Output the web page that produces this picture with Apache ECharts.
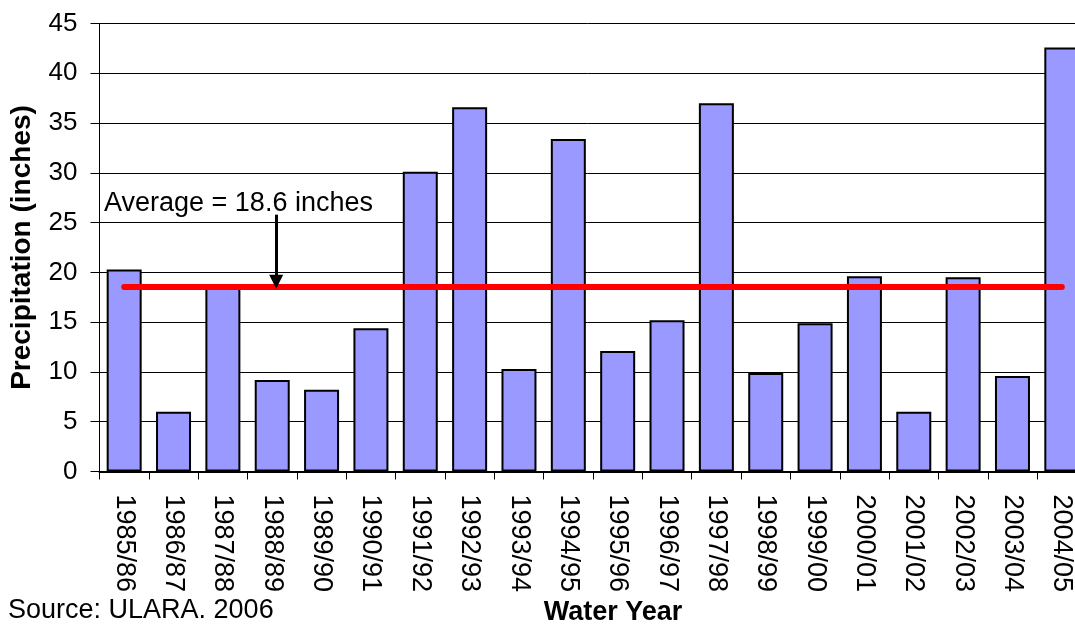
<!DOCTYPE html>
<html>
<head>
<meta charset="utf-8">
<script src="https://cdn.jsdelivr.net/npm/echarts@6/dist/echarts.min.js"></script>
<style>
html,body{margin:0;padding:0;background:#fff;}
#chart{width:1075px;height:626px;}
</style>
</head>
<body>
<div id="chart"></div>
<script>
const categories = ['1985/86','1986/87','1987/88','1988/89','1989/90','1990/91','1991/92','1992/93','1993/94','1994/95','1995/96','1996/97','1997/98','1998/99','1999/00','2000/01','2001/02','2002/03','2003/04','2004/05'];
const precipitation = [20.3, 6.0, 18.8, 9.2, 8.2, 14.4, 30.1, 36.6, 10.3, 33.4, 12.1, 15.2, 37.0, 9.9, 14.9, 19.6, 6.0, 19.5, 9.6, 42.6];
const averageValue = 18.6;
const averageLabel = 'Average = 18.6 inches';
const yTitle = 'Precipitation (inches)';
const xTitle = 'Water Year';
const sourceText = 'Source: ULARA. 2006';
// arrow annotation (in category-width units across the plot, and y values)
const arrowX = 3.58;
const arrowFromY = 25.8;
const arrowToY = 19.05;

const FONT = 'Liberation Sans, Arial, sans-serif';
const chart = echarts.init(document.getElementById('chart'));
chart.setOption({
  animation: false,
  backgroundColor: '#fff',
  grid: {left: 99.5, top: 23.5, width: 987, height: 448, containLabel: false, outerBoundsMode: 'none'},
  xAxis: [{
    type: 'category',
    data: categories,
    boundaryGap: true,
    axisLine: {show: true, lineStyle: {color: '#000', width: 2}},
    axisTick: {show: true, alignWithLabel: false, length: 8, lineStyle: {color: '#000', width: 1}},
    axisLabel: {rotate: -90, interval: 0, margin: 23, color: '#000', fontFamily: FONT, fontSize: 27}
  }, {
    type: 'value',
    min: 0, max: categories.length,
    show: false,
    position: 'bottom'
  }],
  yAxis: {
    type: 'value',
    min: 0, max: 45, interval: 5,
    name: yTitle,
    nameLocation: 'middle',
    nameRotate: 90,
    nameGap: 63,
    nameTextStyle: {color: '#000', fontFamily: FONT, fontSize: 28, fontWeight: 'bold'},
    axisLine: {show: true, lineStyle: {color: '#000', width: 1}},
    axisTick: {show: true, length: 9, lineStyle: {color: '#000', width: 1}},
    axisLabel: {margin: 22, color: '#000', fontFamily: FONT, fontSize: 26},
    splitLine: {show: true, lineStyle: {color: '#000', width: 1}}
  },
  series: [{
    type: 'bar',
    data: precipitation,
    barWidth: 35,
    itemStyle: {color: '#9999FF', borderColor: '#000', borderWidth: 2},
    markLine: {
      silent: true,
      animation: false,
      symbol: 'none',
      label: {show: false},
      data: [
        [{coord: [0, averageValue], lineStyle: {color: '#FF0000', width: 6, cap: 'round', type: 'solid'}},
         {coord: [categories.length - 1, averageValue]}]
      ]
    }
  }, {
    type: 'scatter',
    xAxisIndex: 1,
    yAxisIndex: 0,
    data: [],
    silent: true,
    markLine: {
      silent: true,
      animation: false,
      label: {show: false},
      data: [
        [{coord: [arrowX, arrowFromY], symbol: 'none', lineStyle: {color: '#000', width: 3, type: 'solid'}},
         {coord: [arrowX, arrowToY], symbol: 'triangle', symbolSize: [14, 14], symbolRotate: 180}]
      ]
    }
  }],
  graphic: [
    {type: 'text', x: 104, y: 204, style: {text: averageLabel, font: '27px ' + FONT, fill: '#000', textVerticalAlign: 'middle'}},
    {type: 'text', x: 8, y: 611, style: {text: sourceText, font: '27px ' + FONT, fill: '#000', textVerticalAlign: 'middle'}},
    {type: 'text', x: 613, y: 613, style: {text: xTitle, font: 'bold 27px ' + FONT, fill: '#000', textAlign: 'center', textVerticalAlign: 'middle'}}
  ]
});
</script>
</body>
</html>
